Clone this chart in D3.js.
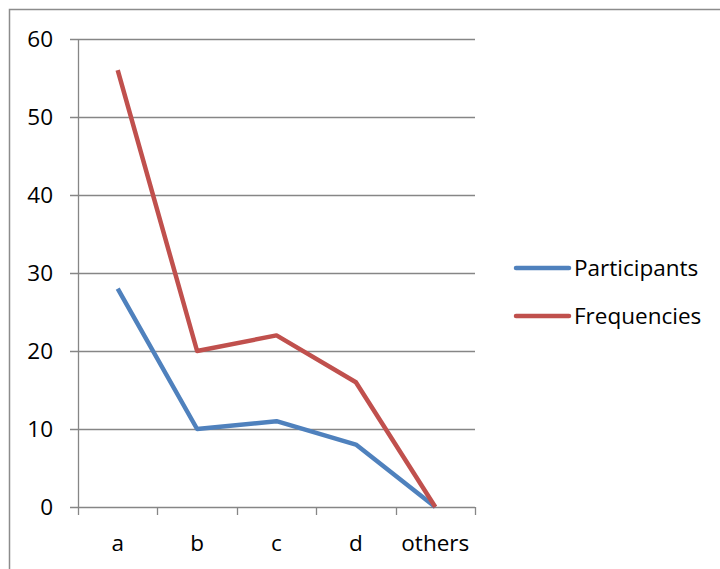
<!DOCTYPE html>
<html><head><meta charset="utf-8">
<script src="https://cdn.jsdelivr.net/npm/d3@7"></script>
<style>body{margin:0;background:#fff}svg{display:block}text{font-family:"Open Sans","Liberation Sans",sans-serif;fill:#000}</style>
</head><body>
<svg id="c" width="720" height="569"></svg>
<script>
const categories = ["a","b","c","d","others"];
const participants = [28,10,11,8,0];
const frequencies = [56,20,22,16,0];
const yTicks = [0,10,20,30,40,50,60];
const seriesNames = ["Participants","Frequencies"];
const colors = ["#4F81BD","#C0504D"];

const svg = d3.select("#c");
svg.append("rect").attr("x",9.5).attr("y",9.5).attr("width",760).attr("height",600)
  .attr("fill","none").attr("stroke","#8c8c8c").attr("stroke-width",1.5);

const L=78, R=475, T=39, B=507;
const FS=22.5;
const x = d3.scaleBand().domain(categories).range([L,R]);
const y = d3.scaleLinear().domain([0,60]).range([B,T]);

svg.append("g").selectAll("line").data(yTicks).join("line")
  .attr("x1",L-8).attr("x2",R).attr("y1",d=>Math.round(y(d))+0.5).attr("y2",d=>Math.round(y(d))+0.5)
  .attr("stroke","#868686").attr("stroke-width",1.3);
svg.append("line").attr("x1",L+0.5).attr("x2",L+0.5).attr("y1",T).attr("y2",B)
  .attr("stroke","#868686").attr("stroke-width",1.3);
svg.append("g").selectAll("text").data(yTicks).join("text")
  .attr("x",53).attr("y",d=>y(d)).attr("dy","0.35em").attr("text-anchor","end")
  .attr("font-size",FS).text(d=>d);
const tickX = categories.map(c=>x(c)).concat([R]);
svg.append("g").selectAll("line").data(tickX).join("line")
  .attr("x1",d=>Math.round(d)+0.5).attr("x2",d=>Math.round(d)+0.5).attr("y1",B).attr("y2",B+8)
  .attr("stroke","#868686").attr("stroke-width",1.3);
svg.append("g").selectAll("text").data(categories).join("text")
  .attr("x",d=>x(d)+x.bandwidth()/2).attr("y",551).attr("text-anchor","middle")
  .attr("font-size",FS).text(d=>d);

const line = d3.line().x((d,i)=>x(categories[i])+x.bandwidth()/2).y(d=>y(d));
[participants,frequencies].forEach((s,i)=>{
  svg.append("path").datum(s).attr("d",line).attr("fill","none")
    .attr("stroke",colors[i]).attr("stroke-width",4.5).attr("stroke-linejoin","round");
});
const ly=[268,316];
seriesNames.forEach((n,i)=>{
  svg.append("line").attr("x1",516).attr("x2",569).attr("y1",ly[i]).attr("y2",ly[i])
    .attr("stroke",colors[i]).attr("stroke-width",4.5).attr("stroke-linecap","round");
  svg.append("text").attr("x",574).attr("y",ly[i]).attr("dy","0.35em").attr("font-size",FS).text(n);
});
</script></body></html>
